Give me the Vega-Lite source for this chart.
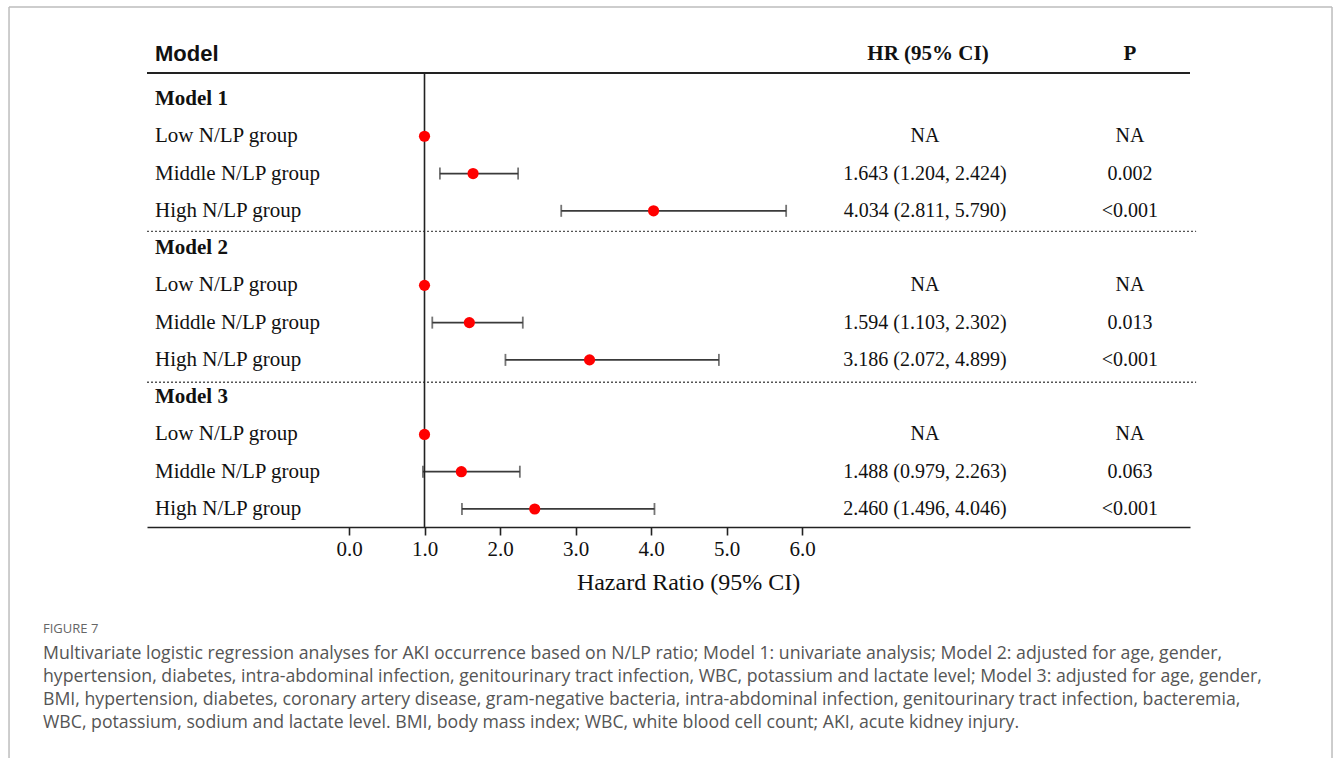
{
  "$schema": "https://vega.github.io/schema/vega-lite/v6.json",
  "width": 1043,
  "height": 497,
  "autosize": {"type": "none"},
  "padding": {"left": 147, "top": 30, "right": 143, "bottom": 231},
  "background": "white",
  "config": {"view": {"stroke": null}},
  "title": {
    "text": "FIGURE 7",
    "subtitle": [
      "Multivariate logistic regression analyses for AKI occurrence based on N/LP ratio; Model 1: univariate analysis; Model 2: adjusted for age, gender,",
      "hypertension, diabetes, intra-abdominal infection, genitourinary tract infection, WBC, potassium and lactate level; Model 3: adjusted for age, gender,",
      "BMI, hypertension, diabetes, coronary artery disease, gram-negative bacteria, intra-abdominal infection, genitourinary tract infection, bacteremia,",
      "WBC, potassium, sodium and lactate level. BMI, body mass index; WBC, white blood cell count; AKI, acute kidney injury."
    ],
    "orient": "bottom",
    "anchor": "start",
    "frame": "group",
    "dx": -104,
    "dy": -164,
    "offset": 28,
    "font": "Open Sans",
    "fontSize": 13,
    "fontWeight": "normal",
    "color": "#666666",
    "subtitleFont": "Open Sans",
    "subtitleFontSize": 17.7,
    "subtitleColor": "#555555",
    "subtitleLineHeight": 23,
    "subtitlePadding": 9
  },
  "data": {
    "values": [
      {"row": 1, "kind": "model", "label": "Model 1", "hr": null, "lo": null, "hi": null, "hr_text": "", "p_text": ""},
      {"row": 2, "kind": "group", "label": "Low N/LP group", "hr": 1.0, "lo": null, "hi": null, "hr_text": "NA", "p_text": "NA"},
      {"row": 3, "kind": "group", "label": "Middle N/LP group", "hr": 1.643, "lo": 1.204, "hi": 2.24, "hr_text": "1.643 (1.204, 2.424)", "p_text": "0.002"},
      {"row": 4, "kind": "group", "label": "High N/LP group", "hr": 4.034, "lo": 2.811, "hi": 5.79, "hr_text": "4.034 (2.811, 5.790)", "p_text": "<0.001"},
      {"row": 5, "kind": "model", "label": "Model 2", "hr": null, "lo": null, "hi": null, "hr_text": "", "p_text": ""},
      {"row": 6, "kind": "group", "label": "Low N/LP group", "hr": 1.0, "lo": null, "hi": null, "hr_text": "NA", "p_text": "NA"},
      {"row": 7, "kind": "group", "label": "Middle N/LP group", "hr": 1.594, "lo": 1.103, "hi": 2.302, "hr_text": "1.594 (1.103, 2.302)", "p_text": "0.013"},
      {"row": 8, "kind": "group", "label": "High N/LP group", "hr": 3.186, "lo": 2.072, "hi": 4.899, "hr_text": "3.186 (2.072, 4.899)", "p_text": "<0.001"},
      {"row": 9, "kind": "model", "label": "Model 3", "hr": null, "lo": null, "hi": null, "hr_text": "", "p_text": ""},
      {"row": 10, "kind": "group", "label": "Low N/LP group", "hr": 1.0, "lo": null, "hi": null, "hr_text": "NA", "p_text": "NA"},
      {"row": 11, "kind": "group", "label": "Middle N/LP group", "hr": 1.488, "lo": 0.979, "hi": 2.263, "hr_text": "1.488 (0.979, 2.263)", "p_text": "0.063"},
      {"row": 12, "kind": "group", "label": "High N/LP group", "hr": 2.46, "lo": 1.496, "hi": 4.046, "hr_text": "2.460 (1.496, 4.046)", "p_text": "<0.001"}
    ]
  },
  "layer": [
    {
      "transform": [{"filter": "isValid(datum.lo)"}],
      "mark": {"type": "errorbar", "ticks": true, "size": 12, "thickness": 1.8, "color": "#3a3a3a"},
      "encoding": {
        "x": {"field": "lo", "type": "quantitative", "title": "Hazard Ratio (95% CI)", "scale": {"domain": [-2.6755, 11.139], "nice": false, "zero": false}, "axis": {
          "values": [0, 1, 2, 3, 4, 5, 6],
          "format": ".1f",
          "grid": false,
          "domainColor": "#222222",
          "domainWidth": 1.6,
          "tickColor": "#222222",
          "tickWidth": 1.6,
          "tickSize": 8,
          "labelFont": "Liberation Serif",
          "labelFontSize": 21,
          "labelColor": "#111111",
          "labelPadding": 3,
          "title": "Hazard Ratio (95% CI)",
          "titleFont": "Liberation Serif",
          "titleFontSize": 24,
          "titleFontWeight": "normal",
          "titleColor": "#111111",
          "titleX": 541,
          "titleY": 55,
          "titleBaseline": "middle"
        }},
        "x2": {"field": "hi"},
        "y": {"field": "row", "type": "quantitative", "title": null, "scale": {"domain": [-0.8514, 12.4837], "reverse": true, "nice": false, "zero": false}, "axis": null}
      }
    },
    {
      "data": {"values": [{"k": "frame"}]},
      "mark": {"type": "rule", "color": "#bdbdbd", "strokeWidth": 1.5},
      "encoding": {
        "x": {"datum": -4.503, "type": "quantitative"},
        "y": {"datum": -1.4685, "type": "quantitative"},
        "y2": {"datum": 18.68}
      }
    },
    {
      "data": {"values": [{"k": "frame"}]},
      "mark": {"type": "rule", "color": "#bdbdbd", "strokeWidth": 1.5},
      "encoding": {
        "x": {"datum": 13.02, "type": "quantitative"},
        "y": {"datum": -1.4685, "type": "quantitative"},
        "y2": {"datum": 18.68}
      }
    },
    {
      "data": {"values": [{"k": "frame"}]},
      "mark": {"type": "rule", "color": "#bdbdbd", "strokeWidth": 1.5},
      "encoding": {
        "x": {"datum": -4.503, "type": "quantitative"},
        "x2": {"datum": 13.02},
        "y": {"datum": -1.4685, "type": "quantitative"}
      }
    },
    {
      "data": {"values": [{"k": "top"}]},
      "mark": {"type": "rule", "color": "#222222", "strokeWidth": 2},
      "encoding": {
        "x": {"datum": -2.6755, "type": "quantitative"},
        "x2": {"datum": 11.139},
        "y": {"datum": 0.3024, "type": "quantitative"}
      }
    },
    {
      "data": {"values": [{"sep": 4.55}, {"sep": 8.6}]},
      "mark": {"type": "rule", "color": "#555555", "strokeWidth": 1.3, "strokeDash": [2, 2]},
      "encoding": {
        "x": {"datum": -2.6755, "type": "quantitative"},
        "x2": {"datum": 11.22},
        "y": {"field": "sep", "type": "quantitative", "title": null}
      }
    },
    {
      "data": {"values": [{"ref": 1}]},
      "mark": {"type": "rule", "color": "#222222", "strokeWidth": 1.6},
      "encoding": {
        "x": {"field": "ref", "type": "quantitative", "title": "Hazard Ratio (95% CI)"},
        "y": {"datum": 0.3024, "type": "quantitative"},
        "y2": {"datum": 12.4837}
      }
    },
    {
      "transform": [{"filter": "isValid(datum.hr)"}],
      "mark": {"type": "point", "shape": "circle", "filled": true, "opacity": 1, "size": 125, "color": "#ff0000"},
      "encoding": {
        "x": {"field": "hr", "type": "quantitative", "title": "Hazard Ratio (95% CI)"},
        "y": {"field": "row", "type": "quantitative", "title": null}
      }
    },
    {
      "transform": [{"filter": "datum.kind == 'group'"}],
      "mark": {"type": "text", "align": "left", "baseline": "middle", "font": "Liberation Serif", "fontSize": 21, "color": "#111111"},
      "encoding": {
        "x": {"datum": -2.5695, "type": "quantitative"},
        "y": {"field": "row", "type": "quantitative", "title": null},
        "text": {"field": "label"}
      }
    },
    {
      "transform": [{"filter": "datum.kind == 'model'"}],
      "mark": {"type": "text", "align": "left", "baseline": "middle", "font": "Liberation Serif", "fontSize": 21, "fontWeight": "bold", "color": "#111111"},
      "encoding": {
        "x": {"datum": -2.5695, "type": "quantitative"},
        "y": {"field": "row", "type": "quantitative", "title": null},
        "text": {"field": "label"}
      }
    },
    {
      "mark": {"type": "text", "align": "center", "baseline": "middle", "font": "Liberation Serif", "fontSize": 20, "color": "#111111"},
      "encoding": {
        "x": {"datum": 7.629, "type": "quantitative"},
        "y": {"field": "row", "type": "quantitative", "title": null},
        "text": {"field": "hr_text"}
      }
    },
    {
      "mark": {"type": "text", "align": "center", "baseline": "middle", "font": "Liberation Serif", "fontSize": 20, "color": "#111111"},
      "encoding": {
        "x": {"datum": 10.344, "type": "quantitative"},
        "y": {"field": "row", "type": "quantitative", "title": null},
        "text": {"field": "p_text"}
      }
    },
    {
      "data": {"values": [{"h": "Model"}]},
      "mark": {"type": "text", "align": "left", "baseline": "middle", "font": "Liberation Sans", "fontSize": 22, "fontWeight": "bold", "color": "#111111"},
      "encoding": {
        "x": {"datum": -2.5695, "type": "quantitative"},
        "y": {"datum": -0.2074, "type": "quantitative"},
        "text": {"field": "h"}
      }
    },
    {
      "data": {"values": [{"h": "HR (95% CI)"}]},
      "mark": {"type": "text", "align": "center", "baseline": "middle", "font": "Liberation Serif", "fontSize": 21, "fontWeight": "bold", "color": "#111111"},
      "encoding": {
        "x": {"datum": 7.669, "type": "quantitative"},
        "y": {"datum": -0.2074, "type": "quantitative"},
        "text": {"field": "h"}
      }
    },
    {
      "data": {"values": [{"h": "P"}]},
      "mark": {"type": "text", "align": "center", "baseline": "middle", "font": "Liberation Serif", "fontSize": 21, "fontWeight": "bold", "color": "#111111"},
      "encoding": {
        "x": {"datum": 10.344, "type": "quantitative"},
        "y": {"datum": -0.2074, "type": "quantitative"},
        "text": {"field": "h"}
      }
    }
  ]
}
